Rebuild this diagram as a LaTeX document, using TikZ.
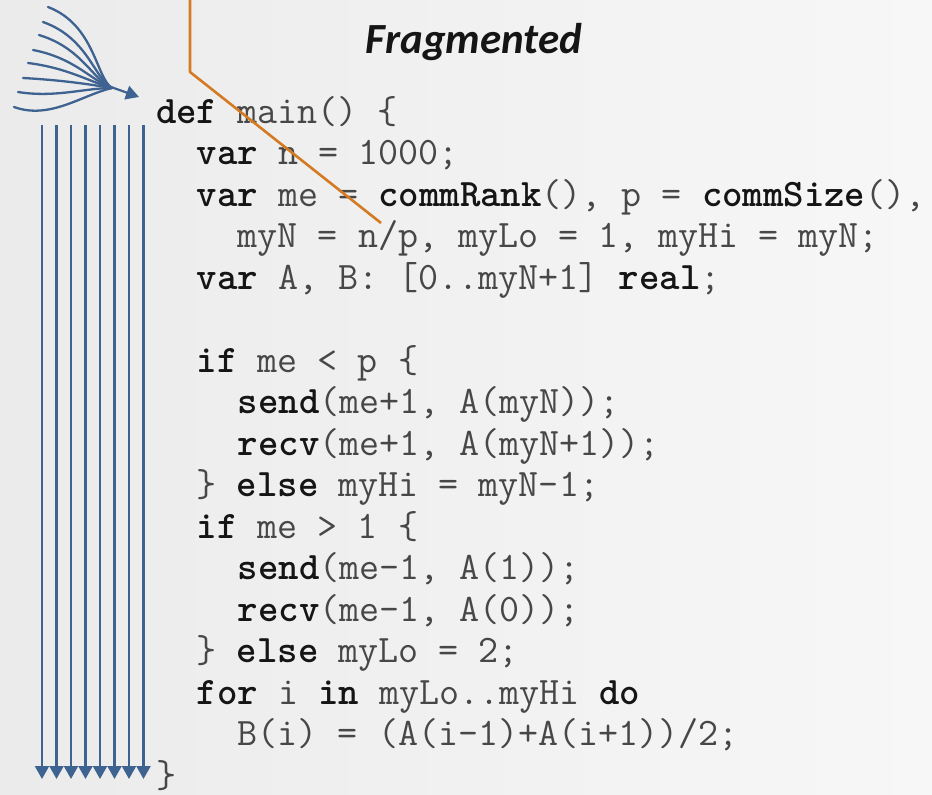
\documentclass[tikz,border=0pt]{standalone}
\usepackage{fontspec}
\newfontfamily\titlefont{Carlito}
\usetikzlibrary{arrows.meta}
\definecolor{bgL}{HTML}{EBEBEB}
\definecolor{bgR}{HTML}{F7F7F7}
\definecolor{codegray}{HTML}{474747}
\definecolor{kwcol}{HTML}{151515}
\definecolor{flowblue}{HTML}{3F6390}
\definecolor{orangeline}{HTML}{D47A22}
\newcommand\kw[1]{{\bfseries\color{kwcol}#1}}
\begin{document}
\begin{tikzpicture}[x=1pt,y=-1pt,
  code/.style={anchor=base west, inner sep=0pt, outer sep=0pt,
    font=\ttfamily\fontsize{38.9}{44}\selectfont, text=codegray},
  thread/.style={draw=flowblue, line width=2.2pt, -{Triangle[width=14pt,length=13pt]}},
  fanline/.style={draw=flowblue, line width=2.3pt, line cap=round},
  cut/.style={draw=orangeline, line width=2.6pt, line join=round}]
\useasboundingbox (0,0) rectangle (932,795);
\shade[left color=bgL, right color=bgR] (0,0) rectangle (932,795);

% title
\node[font=\titlefont\bfseries\itshape\fontsize{43}{50}\selectfont, text=kwcol, anchor=base, inner sep=0pt] (title) at (474,53) {Fragmented};

% code
\node[code] (l0)  at (156,123)   {\kw{def} main() \{};
\node[code] (l1)  at (196.9,164.5) {\kw{var} n = 1000;};
\node[code] (l2)  at (196.9,206) {\kw{var} me = \kw{commRank}(), p = \kw{commSize}(),};
\node[code] (l3)  at (237.8,247.5) {myN = n/p, myLo = 1, myHi = myN;};
\node[code] (l4)  at (196.9,289) {\kw{var} A, B: [0..myN+1] \kw{real};};
\node[code] (l6)  at (196.9,372) {\kw{if} me < p \{};
\node[code] (l7)  at (237.8,413.5) {\kw{send}(me+1, A(myN));};
\node[code] (l8)  at (237.8,455) {\kw{recv}(me+1, A(myN+1));};
\node[code] (l9)  at (196.9,496.5) {\} \kw{else} myHi = myN-1;};
\node[code] (l10) at (196.9,538) {\kw{if} me > 1 \{};
\node[code] (l11) at (237.8,579.5) {\kw{send}(me-1, A(1));};
\node[code] (l12) at (237.8,621) {\kw{recv}(me-1, A(0));};
\node[code] (l13) at (196.9,662.5) {\} \kw{else} myLo = 2;};
\node[code] (l14) at (196.9,704) {\kw{for} i \kw{in} myLo..myHi \kw{do}};
\node[code] (l15) at (237.8,745.5) {B(i) = (A(i-1)+A(i+1))/2;};
\node[code] (l16) at (156,787) {\}};

% vertical thread arrows
\foreach \i/\x in {1/42,2/56.5,3/71,4/85.5,5/100,6/114.5,7/129,8/143.5}{
  \coordinate (ts\i) at (\x,125);
  \coordinate (te\i) at (\x,779);
  \draw[thread] (ts\i) -- (te\i);
}

% fan of threads converging
\coordinate (m) at (112,88);
\coordinate (ma) at (104,84.5);
\coordinate (ft) at (139,97);
\coordinate (f1) at (48,7);
\coordinate (f2) at (43,22);
\coordinate (f3) at (39,35);
\coordinate (f4) at (33,50);
\coordinate (f5) at (28,63);
\coordinate (f6) at (23,78);
\coordinate (f7) at (18,92);
\coordinate (f8) at (14,107);
\draw[fanline] (f1) .. controls (95,25) and (96,78) .. (m);
\draw[fanline] (f2) .. controls (88,38) and (94,78) .. (m);
\draw[fanline] (f3) .. controls (82,48) and (93,80) .. (m);
\draw[fanline] (f4) .. controls (75,58) and (92,81) .. (m);
\draw[fanline] (f5) .. controls (68,68) and (90,82) .. (m);
\draw[fanline] (f6) .. controls (60,80) and (88,84) .. (m);
\draw[fanline] (f7) .. controls (55,98) and (85,88) .. (m);
\draw[fanline] (f8) .. controls (50,120) and (82,95) .. (m);
\draw[thread] (ma) -- (ft);

% orange cut line
\coordinate (o1) at (190,-3);
\coordinate (o2) at (190,72);
\coordinate (o3) at (381,223);
\draw[cut] (o1) -- (o2) -- (o3);
\end{tikzpicture}
\end{document}
